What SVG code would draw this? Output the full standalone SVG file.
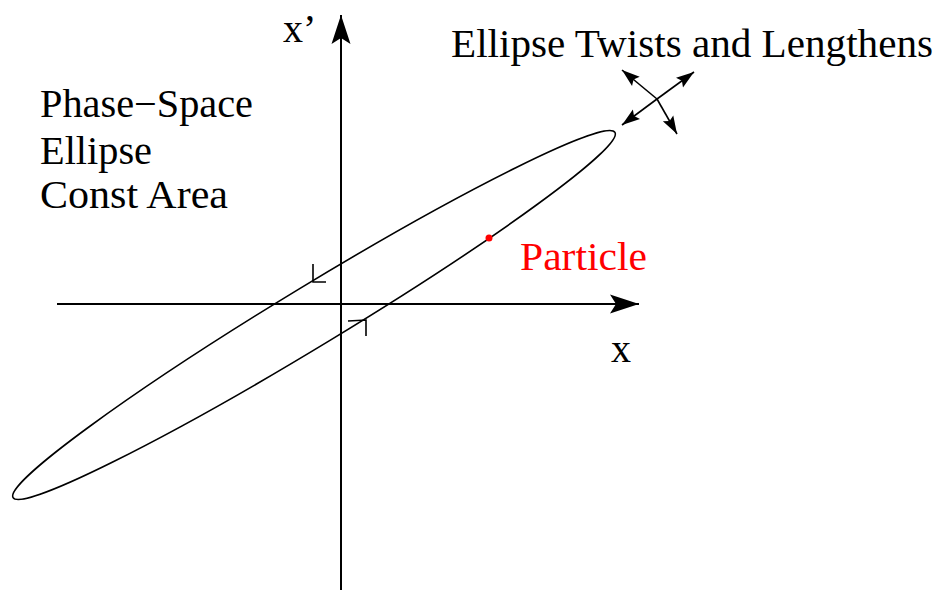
<svg xmlns="http://www.w3.org/2000/svg" width="940" height="593" viewBox="0 0 940 593">
<style>
.t{font-family:"Liberation Serif","Times New Roman",serif;font-size:40px;fill:#000}
.ax{stroke:#000;stroke-width:2;fill:none}
.ln{stroke:#000;stroke-width:1.6;fill:none}
</style>
<defs>
<marker id="big" markerUnits="userSpaceOnUse" markerWidth="32" markerHeight="22" viewBox="0 -11 32 22" refX="29" refY="0" orient="auto">
<path d="M0,-9.5 L29,0 L0,9.5 L6,0 z" fill="#000"/>
</marker>
<marker id="sm" markerUnits="userSpaceOnUse" markerWidth="20" markerHeight="14" viewBox="0 -7 20 14" refX="18" refY="0" orient="auto">
<path d="M0,-6 L18,0 L0,6 L3,0 z" fill="#000"/>
</marker>
</defs>
<rect width="940" height="593" fill="#fff"/>
<g id="connectors">
<line id="x-axis" class="ax" x1="57" y1="304" x2="639" y2="304" marker-end="url(#big)"/>
<line id="xp-axis" class="ax" x1="341" y1="590" x2="341" y2="15" marker-end="url(#big)"/>
<g id="twist-arrows" class="ln">
<line x1="657" y1="99" x2="622" y2="70" marker-end="url(#sm)"/>
<line x1="657" y1="99" x2="677" y2="134" marker-end="url(#sm)"/>
<line x1="657" y1="99" x2="622" y2="125" marker-end="url(#sm)"/>
<line x1="657" y1="99" x2="694" y2="72" marker-end="url(#sm)"/>
</g>
</g>
<g id="ellipse">
<ellipse class="ln" cx="314" cy="315" rx="352" ry="30" transform="rotate(-31.25 314 315)"/>
<path class="ln" d="M313,264 L313,282 L326,282"/>
<path class="ln" d="M348,321 L366,320 L366,336"/>
</g>
<g id="particle">
<circle cx="489" cy="238" r="3.5" fill="#f00"/>
<text class="t" x="520" y="270" style="fill:#f00" textLength="127" lengthAdjust="spacingAndGlyphs">Particle</text>
</g>
<g id="label-xp"><text class="t" x="283" y="42">x’</text></g>
<g id="label-x"><text class="t" x="611" y="362">x</text></g>
<g id="label-twist"><text class="t" x="451" y="57" textLength="482" lengthAdjust="spacingAndGlyphs">Ellipse Twists and Lengthens</text></g>
<g id="label-phase">
<text class="t" x="40" y="117" textLength="213" lengthAdjust="spacingAndGlyphs">Phase−Space</text>
<text class="t" x="40" y="164" textLength="112" lengthAdjust="spacingAndGlyphs">Ellipse</text>
<text class="t" x="40" y="208" textLength="188" lengthAdjust="spacingAndGlyphs">Const Area</text>
</g>
</svg>
